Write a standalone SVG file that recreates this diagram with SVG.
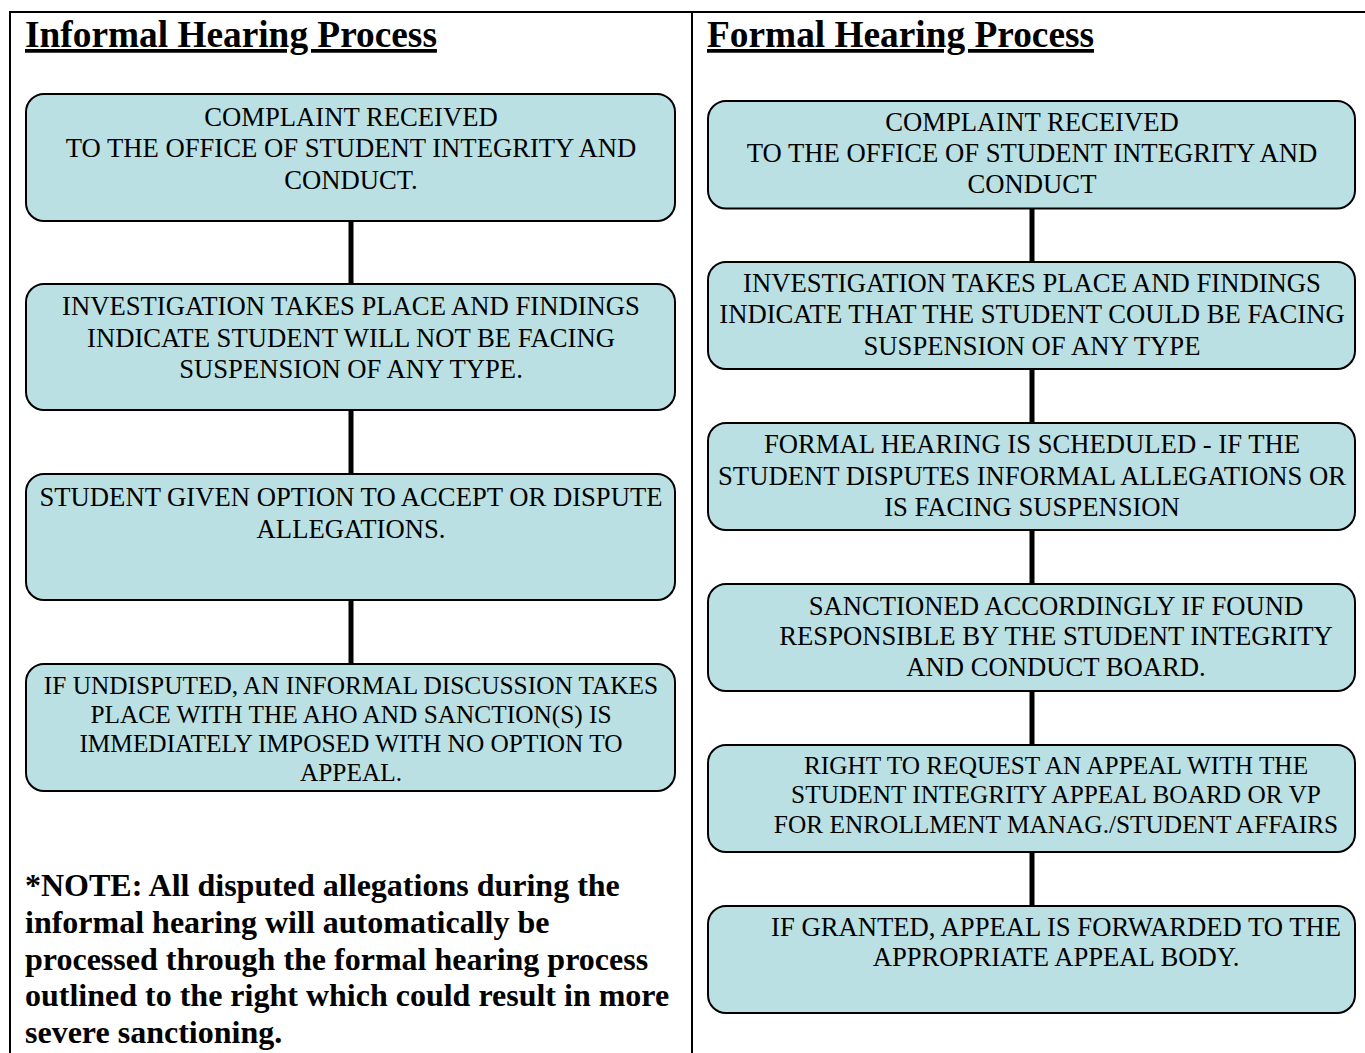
<svg xmlns="http://www.w3.org/2000/svg" width="1365" height="1053" viewBox="0 0 1365 1053">
<style>
.frame{stroke:#000;stroke-width:2;fill:none}
.box{fill:#bae0e3;stroke:#000;stroke-width:2}
.t{font-family:"Liberation Serif","Times New Roman",serif;font-size:26.67px;fill:#000;text-anchor:middle}
.s{font-size:25.33px}
.title{font-family:"Liberation Serif","Times New Roman",serif;font-size:37.33px;font-weight:bold;fill:#000;text-decoration:underline}
.note{font-family:"Liberation Serif","Times New Roman",serif;font-size:32px;font-weight:bold;fill:#000}
.con{stroke:#000;stroke-width:5}
</style>
<rect width="1365" height="1053" fill="#fff"/>
<g id="frame">
<line class="frame" x1="10" y1="12" x2="1365" y2="12"/>
<line class="frame" x1="10" y1="11" x2="10" y2="1053"/>
<line class="frame" x1="692" y1="11" x2="692" y2="1053"/>
</g>
<g id="titles">
<text class="title" x="25" y="47">Informal Hearing Process</text>
<text class="title" x="707" y="47">Formal Hearing Process</text>
</g>
<g id="connectors">
<line class="con" x1="351" y1="221" x2="351" y2="284"/>
<line class="con" x1="351" y1="410" x2="351" y2="474"/>
<line class="con" x1="351" y1="600" x2="351" y2="664"/>
<line class="con" x1="1032" y1="208" x2="1032" y2="262"/>
<line class="con" x1="1032" y1="369" x2="1032" y2="423"/>
<line class="con" x1="1032" y1="530" x2="1032" y2="584"/>
<line class="con" x1="1032" y1="691" x2="1032" y2="745"/>
<line class="con" x1="1032" y1="852" x2="1032" y2="906"/>
</g>
<g id="L1">
<rect class="box" x="26" y="94" width="649" height="127" rx="18"/>
<text class="t" x="351" y="126">COMPLAINT RECEIVED</text>
<text class="t" x="351" y="157">TO THE OFFICE OF STUDENT INTEGRITY AND</text>
<text class="t" x="351" y="189">CONDUCT.</text>
</g>
<g id="L2">
<rect class="box" x="26" y="284" width="649" height="126" rx="18"/>
<text class="t" x="351" y="315">INVESTIGATION TAKES PLACE AND FINDINGS</text>
<text class="t" x="351" y="347">INDICATE STUDENT WILL NOT BE FACING</text>
<text class="t" x="351" y="378">SUSPENSION OF ANY TYPE.</text>
</g>
<g id="L3">
<rect class="box" x="26" y="474" width="649" height="126" rx="18"/>
<text class="t" x="351" y="506">STUDENT GIVEN OPTION TO ACCEPT OR DISPUTE</text>
<text class="t" x="351" y="538">ALLEGATIONS.</text>
</g>
<g id="L4">
<rect class="box" x="26" y="664" width="649" height="127" rx="18"/>
<text class="t s" x="351" y="694">IF UNDISPUTED, AN INFORMAL DISCUSSION TAKES</text>
<text class="t s" x="351" y="723">PLACE WITH THE AHO AND SANCTION(S) IS</text>
<text class="t s" x="351" y="752">IMMEDIATELY IMPOSED WITH NO OPTION TO</text>
<text class="t s" x="351" y="781">APPEAL.</text>
</g>
<g id="note">
<text class="note" x="25" y="896">*NOTE: All disputed allegations during the</text>
<text class="note" x="25" y="932.8">informal hearing will automatically be</text>
<text class="note" x="25" y="969.6">processed through the formal hearing process</text>
<text class="note" x="25" y="1006.4">outlined to the right which could result in more</text>
<text class="note" x="25" y="1043.2">severe sanctioning.</text>
</g>
<g id="R1">
<rect class="box" x="708" y="101" width="647" height="107.5" rx="18"/>
<text class="t" x="1032" y="131">COMPLAINT RECEIVED</text>
<text class="t" x="1032" y="162">TO THE OFFICE OF STUDENT INTEGRITY AND</text>
<text class="t" x="1032" y="193">CONDUCT</text>
</g>
<g id="R2">
<rect class="box" x="708" y="262" width="647" height="107" rx="18"/>
<text class="t" x="1032" y="292">INVESTIGATION TAKES PLACE AND FINDINGS</text>
<text class="t" x="1032" y="323">INDICATE THAT THE STUDENT COULD BE FACING</text>
<text class="t" x="1032" y="355">SUSPENSION OF ANY TYPE</text>
</g>
<g id="R3">
<rect class="box" x="708" y="423" width="647" height="107" rx="18"/>
<text class="t" x="1032" y="453">FORMAL HEARING IS SCHEDULED - IF THE</text>
<text class="t" x="1032" y="485">STUDENT DISPUTES INFORMAL ALLEGATIONS OR</text>
<text class="t" x="1032" y="516">IS FACING SUSPENSION</text>
</g>
<g id="R4">
<rect class="box" x="708" y="584" width="647" height="107" rx="18"/>
<text class="t" x="1056" y="615">SANCTIONED ACCORDINGLY IF FOUND</text>
<text class="t" x="1056" y="645">RESPONSIBLE BY THE STUDENT INTEGRITY</text>
<text class="t" x="1056" y="676">AND CONDUCT BOARD.</text>
</g>
<g id="R5">
<rect class="box" x="708" y="745" width="647" height="107" rx="18"/>
<text class="t s" x="1056" y="774">RIGHT TO REQUEST AN APPEAL WITH THE</text>
<text class="t s" x="1056" y="803">STUDENT INTEGRITY APPEAL BOARD OR VP</text>
<text class="t s" x="1056" y="833">FOR ENROLLMENT MANAG./STUDENT AFFAIRS</text>
</g>
<g id="R6">
<rect class="box" x="708" y="906" width="647" height="107" rx="18"/>
<text class="t" x="1056" y="936">IF GRANTED, APPEAL IS FORWARDED TO THE</text>
<text class="t" x="1056" y="966">APPROPRIATE APPEAL BODY.</text>
</g>
</svg>
